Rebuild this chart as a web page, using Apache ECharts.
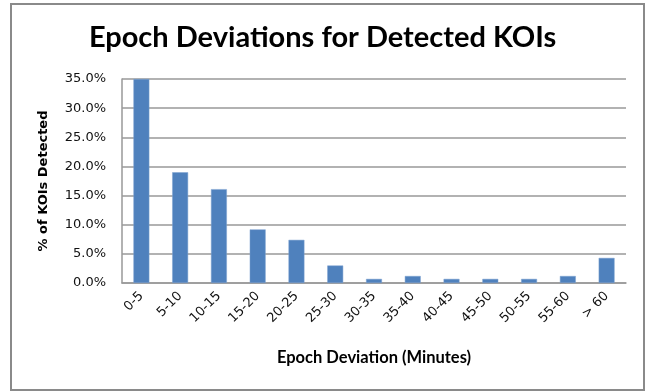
<!DOCTYPE html>
<html>
<head>
<meta charset="utf-8">
<script src="https://cdn.jsdelivr.net/npm/echarts@6/dist/echarts.min.js"></script>
<style>
  html, body { margin: 0; padding: 0; background: #fff; }
  #chart { width: 645px; height: 391px; }
</style>
</head>
<body>
<div id="chart"></div>
<script>
// Deviation bins (minutes) and share of detected KOIs in each bin (%)
const categories = ['0-5', '5-10', '10-15', '15-20', '20-25', '25-30', '30-35',
                    '35-40', '40-45', '45-50', '50-55', '55-60', '> 60'];
const percentDetected = [35.0, 19.0, 16.1, 9.2, 7.4, 3.0, 0.7, 1.2, 0.7, 0.7, 0.7, 1.2, 4.3];

const titleText = 'Epoch Deviations for Detected KOIs';
const xAxisTitle = 'Epoch Deviation (Minutes)';
const yAxisTitle = '% of KOIs Detected';

const chart = echarts.init(document.getElementById('chart'), null, { renderer: 'canvas' });

chart.setOption({
  animation: false,
  backgroundColor: '#ffffff',
  title: {
    text: titleText,
    left: 'center',
    top: 18,
    textStyle: {
      fontFamily: 'Lato',
      fontWeight: 'bold',
      fontSize: 29,
      color: '#000000'
    }
  },
  graphic: [{
    type: 'rect',
    shape: { x: 11, y: 4, width: 633, height: 386 },
    style: { fill: 'none', stroke: '#8a8a8a', lineWidth: 2 },
    silent: true
  }],
  grid: {
    left: 122,
    right: 19,
    top: 79,
    bottom: 108
  },
  xAxis: {
    type: 'category',
    data: categories,
    name: xAxisTitle,
    nameLocation: 'middle',
    nameGap: 66,
    nameTextStyle: {
      fontFamily: 'Lato',
      fontWeight: 'bold',
      fontSize: 16.5,
      color: '#000000'
    },
    axisLine: { show: true, lineStyle: { color: '#999999', width: 1.5 } },
    axisTick: { show: false },
    axisLabel: {
      rotate: 45,
      margin: 11,
      fontFamily: 'DejaVu Sans',
      fontSize: 13,
      color: '#111111'
    }
  },
  yAxis: {
    type: 'value',
    min: 0,
    max: 35,
    interval: 5,
    name: yAxisTitle,
    nameLocation: 'middle',
    nameGap: 72,
    nameTextStyle: {
      fontFamily: 'DejaVu Sans',
      fontWeight: 'bold',
      fontSize: 13,
      color: '#000000'
    },
    axisLine: { show: true, lineStyle: { color: '#999999', width: 1.5 } },
    axisTick: { show: false },
    axisLabel: {
      margin: 16,
      fontFamily: 'DejaVu Sans',
      fontSize: 13,
      color: '#111111',
      formatter: v => v.toFixed(1) + '%'
    },
    splitLine: { show: true, lineStyle: { color: '#999999', width: 1.5 } }
  },
  series: [{
    type: 'bar',
    data: percentDetected,
    barWidth: '41%',
    itemStyle: {
      color: '#4F81BD',
      borderColor: '#7FA3D0',
      borderWidth: 0.5
    }
  }]
});
</script>
</body>
</html>
